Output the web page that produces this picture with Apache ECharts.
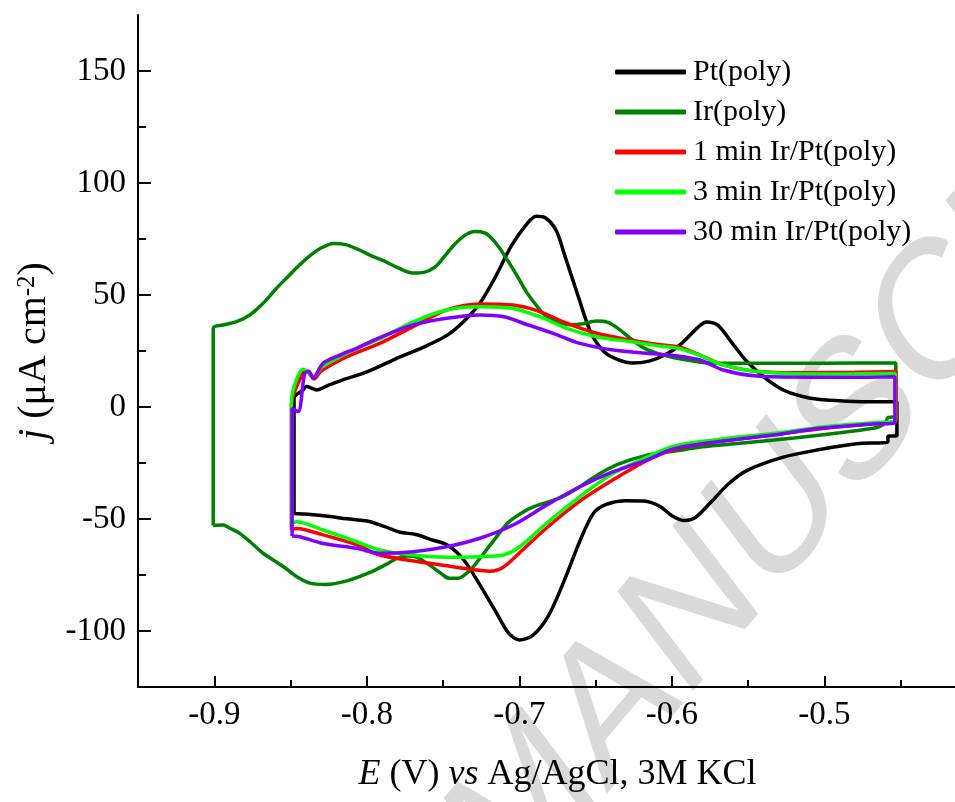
<!DOCTYPE html>
<html>
<head>
<meta charset="utf-8">
<script src="https://cdn.jsdelivr.net/npm/echarts@6/dist/echarts.min.js"></script>
<style>
html,body{margin:0;padding:0;background:#fff;}
#chart{width:955px;height:802px;}
</style>
</head>
<body>
<div id="chart"></div>
<script>
// ---------- data (E in V vs Ag/AgCl, j in µA cm^-2) ----------
const seriesNames = ['Pt(poly)', 'Ir(poly)', '1 min Ir/Pt(poly)', '3 min Ir/Pt(poly)', '30 min Ir/Pt(poly)'];

const ptE = [-0.8477, -0.8477, -0.8420, -0.8395, -0.8355, -0.8330, -0.8250, -0.8165, -0.7991, -0.7817, -0.7609, -0.7470, -0.7365, -0.7260, -0.7157, -0.7052, -0.6948, -0.6890, -0.6830, -0.6760, -0.6704, -0.6617, -0.6530, -0.6443, -0.6350, -0.6256, -0.6150, -0.6043, -0.5939, -0.5835, -0.5774, -0.5700, -0.5610, -0.5510, -0.5390, -0.5270, -0.5150, -0.5030, -0.4850, -0.4687, -0.4525, -0.4525, -0.4584, -0.4584, -0.4789, -0.5030, -0.5270, -0.5510, -0.5630, -0.5751, -0.5850, -0.5919, -0.6000, -0.6078, -0.6183, -0.6304, -0.6426, -0.6513, -0.6600, -0.6704, -0.6809, -0.6913, -0.7000, -0.7070, -0.7157, -0.7261, -0.7365, -0.7470, -0.7574, -0.7678, -0.7783, -0.7887, -0.7991, -0.8130, -0.8270, -0.8409, -0.8477];
const ptJ = [-47.5, 3.9, 7.5, 9.1, 8.2, 7.6, 9.8, 11.9, 15.9, 21.3, 27.3, 32.2, 38.2, 46.2, 58.1, 72.0, 82.0, 85.2, 84.5, 79.0, 68.0, 50.0, 33.0, 24.5, 21.0, 19.6, 20.5, 23.3, 28.2, 35.2, 37.9, 36.5, 29.0, 20.4, 13.0, 7.6, 4.8, 3.3, 2.6, 2.3, 2.3, -13.0, -13.0, -15.5, -16.4, -19.0, -22.4, -28.4, -34.4, -43.0, -49.5, -50.7, -48.5, -44.4, -42.0, -41.8, -43.4, -47.3, -59.3, -77.2, -93.1, -102.0, -104.0, -101.0, -91.1, -79.2, -68.2, -61.7, -59.3, -56.9, -55.9, -53.3, -51.0, -49.9, -48.7, -47.8, -47.5];

const irE = [-0.9007, -0.9007, -0.8942, -0.8854, -0.8767, -0.8680, -0.8592, -0.8513, -0.8440, -0.8374, -0.8300, -0.8217, -0.8140, -0.8061, -0.7970, -0.7887, -0.7800, -0.7700, -0.7620, -0.7554, -0.7500, -0.7434, -0.7360, -0.7290, -0.7230, -0.7193, -0.7130, -0.7073, -0.7010, -0.6953, -0.6890, -0.6833, -0.6750, -0.6664, -0.6580, -0.6496, -0.6420, -0.6351, -0.6270, -0.6184, -0.6090, -0.5991, -0.5870, -0.5751, -0.5600, -0.5200, -0.4800, -0.4532, -0.4532, -0.4582, -0.4600, -0.4640, -0.4680, -0.4899, -0.5200, -0.5554, -0.5800, -0.5991, -0.6180, -0.6351, -0.6480, -0.6592, -0.6700, -0.6784, -0.6905, -0.6990, -0.7073, -0.7193, -0.7313, -0.7398, -0.7460, -0.7506, -0.7590, -0.7674, -0.7740, -0.7800, -0.7880, -0.7991, -0.8130, -0.8270, -0.8380, -0.8461, -0.8548, -0.8680, -0.8760, -0.8833, -0.8900, -0.8942, -0.9007];
const irJ = [-52.9, 35.1, 36.6, 38.1, 41.1, 46.3, 53.0, 58.5, 63.5, 67.5, 71.0, 73.0, 72.5, 70.5, 67.5, 65.2, 62.3, 59.8, 60.2, 62.4, 66.5, 71.9, 76.5, 78.3, 77.8, 76.1, 71.0, 65.0, 58.0, 51.3, 45.5, 41.0, 38.0, 36.7, 37.2, 38.4, 37.8, 35.0, 30.5, 26.4, 23.8, 22.1, 20.6, 19.6, 19.5, 19.5, 19.6, 19.6, -4.3, -4.6, -7.0, -8.8, -9.5, -11.5, -13.8, -16.2, -17.8, -19.8, -21.8, -25.5, -30.0, -35.0, -39.5, -41.8, -44.5, -47.5, -51.6, -61.8, -72.1, -76.4, -76.5, -74.7, -70.5, -67.0, -66.5, -67.5, -70.5, -74.2, -77.6, -79.2, -78.5, -75.7, -71.2, -65.3, -60.5, -56.4, -54.0, -52.7, -52.9];

const min1E = [-0.8494, -0.8494, -0.8420, -0.8395, -0.8345, -0.8300, -0.8165, -0.8067, -0.7915, -0.7696, -0.7477, -0.7259, -0.7041, -0.6866, -0.6690, -0.6494, -0.6275, -0.6100, -0.5947, -0.5816, -0.5664, -0.5445, -0.5117, -0.4800, -0.4530, -0.4530, -0.4680, -0.5000, -0.5336, -0.5700, -0.5991, -0.6166, -0.6385, -0.6603, -0.6822, -0.6997, -0.7106, -0.7193, -0.7368, -0.7587, -0.7915, -0.8067, -0.8287, -0.8461, -0.8494];
const min1J = [-54.9, 1.0, 15.0, 15.8, 12.5, 16.0, 21.3, 24.3, 28.4, 35.9, 43.3, 46.0, 45.5, 42.6, 37.4, 32.9, 29.9, 28.0, 26.7, 23.2, 18.8, 15.9, 15.3, 15.5, 15.8, -6.0, -7.4, -9.5, -12.4, -15.5, -19.0, -24.0, -32.5, -42.0, -54.0, -65.0, -71.5, -73.3, -72.0, -69.8, -66.1, -61.5, -57.1, -54.2, -54.9];

const min3E = [-0.8494, -0.8494, -0.8418, -0.8395, -0.8345, -0.8300, -0.8165, -0.8067, -0.7915, -0.7696, -0.7477, -0.7259, -0.7041, -0.6866, -0.6690, -0.6494, -0.6275, -0.6100, -0.5947, -0.5816, -0.5664, -0.5445, -0.5117, -0.4800, -0.4535, -0.4535, -0.4680, -0.5000, -0.5336, -0.5700, -0.5991, -0.6166, -0.6385, -0.6603, -0.6822, -0.6997, -0.7106, -0.7259, -0.7477, -0.7696, -0.7915, -0.8067, -0.8287, -0.8461, -0.8494];
const min3J = [-52.0, 2.4, 16.8, 16.2, 13.5, 17.5, 22.8, 26.0, 30.5, 38.0, 43.3, 44.8, 44.0, 40.3, 35.1, 31.4, 29.2, 27.4, 26.0, 23.0, 18.7, 15.8, 14.7, 14.8, 15.0, -6.1, -7.0, -8.8, -11.8, -14.5, -17.5, -22.5, -29.6, -40.0, -51.9, -62.4, -66.1, -66.8, -67.1, -66.1, -63.8, -60.1, -54.9, -51.2, -52.0];

const min30E = [-0.8490, -0.8490, -0.8450, -0.8407, -0.8380, -0.8352, -0.8287, -0.8165, -0.8067, -0.7915, -0.7696, -0.7477, -0.7259, -0.7100, -0.6975, -0.6778, -0.6603, -0.6385, -0.6166, -0.5991, -0.5816, -0.5664, -0.5445, -0.5117, -0.4800, -0.4538, -0.4538, -0.4680, -0.5030, -0.5336, -0.5700, -0.5991, -0.6166, -0.6385, -0.6603, -0.6822, -0.7041, -0.7259, -0.7477, -0.7696, -0.7915, -0.8067, -0.8287, -0.8439, -0.8490];
const min30J = [-57.6, -0.6, -2.1, 15.0, 16.0, 12.8, 19.5, 23.5, 26.2, 31.0, 36.6, 39.6, 41.1, 40.3, 37.4, 32.9, 28.4, 25.4, 24.0, 23.0, 21.0, 16.5, 13.8, 13.3, 13.3, 13.5, -7.0, -7.6, -9.5, -12.5, -15.5, -18.7, -23.7, -28.9, -35.6, -43.8, -52.7, -58.6, -62.4, -64.6, -65.3, -63.1, -60.9, -57.9, -57.6];

// axis ticks / labels
const xMajorTicks = [-0.9, -0.8, -0.7, -0.6, -0.5, -0.4];
const xMinorTicks = [-0.85, -0.75, -0.65, -0.55, -0.45];
const xTickLabels = [-0.9, -0.8, -0.7, -0.6, -0.5];
const yMajorTicks = [-100, -50, 0, 50, 100, 150];
const yMinorTicks = [-75, -25, 25, 75, 125];
const yTickLabels = [-100, -50, 0, 50, 100, 150];

// ---------- chart ----------
const SERIF = '"Liberation Serif", "Times New Roman", "DejaVu Serif", serif';
const colors = ['#000000', '#008000', '#ff0000', '#00ff00', '#8000ff'];
const zip = (a, b) => a.map((v, i) => [v, b[i]]);
const curves = [[ptE, ptJ], [irE, irJ], [min1E, min1J], [min3E, min3J], [min30E, min30J]];

const chart = echarts.init(document.getElementById('chart'), null, {renderer: 'canvas'});
const axisLineStyle = {color: '#000', width: 2};

const option = {
  animation: false,
  backgroundColor: '#ffffff',
  textStyle: {fontFamily: SERIF},
  grid: {left: 138, top: 15, right: -22, bottom: 115, containLabel: false, outerBoundsMode: 'none'},
  legend: {
    orient: 'vertical', left: 615, top: 57, padding: 0,
    itemWidth: 71, itemHeight: 5, itemGap: 10, icon: 'roundRect',
    textStyle: {fontFamily: SERIF, fontSize: 30, color: '#000', padding: [0, 0, 0, 2]},
    data: seriesNames
  },
  xAxis: [
    {
      type: 'value', min: -0.95, max: -0.4, position: 'bottom',
      axisLine: {show: true, onZero: false, lineStyle: axisLineStyle},
      axisTick: {show: true, inside: true, length: 11, lineStyle: axisLineStyle, customValues: xMajorTicks},
      axisLabel: {show: true, customValues: xTickLabels, formatter: v => v.toFixed(1), fontFamily: SERIF, fontSize: 33, color: '#000', margin: 12},
      splitLine: {show: false},
      name: '{i|E} (V) {i|vs} Ag/AgCl, 3M KCl',
      nameLocation: 'middle', nameGap: 70,
      nameTextStyle: {fontFamily: SERIF, fontSize: 36, color: '#000',
        rich: {i: {fontFamily: SERIF, fontSize: 36, fontStyle: 'italic', color: '#000'}}}
    },
    {
      type: 'value', min: -0.95, max: -0.4, position: 'bottom',
      axisLine: {show: false, onZero: false},
      axisTick: {show: true, inside: true, length: 7, lineStyle: axisLineStyle, customValues: xMinorTicks},
      axisLabel: {show: false}, splitLine: {show: false}
    }
  ],
  yAxis: [
    {
      type: 'value', min: -125, max: 175, position: 'left',
      axisLine: {show: true, onZero: false, lineStyle: axisLineStyle},
      axisTick: {show: true, inside: true, length: 13, lineStyle: axisLineStyle, customValues: yMajorTicks},
      axisLabel: {show: true, customValues: yTickLabels, fontFamily: SERIF, fontSize: 33, color: '#000', margin: 12},
      splitLine: {show: false},
      name: '{i|j} (μA cm{s|-2})',
      nameLocation: 'middle', nameGap: 58,
      nameTextStyle: {fontFamily: SERIF, fontSize: 40, color: '#000',
        rich: {
          i: {fontFamily: SERIF, fontSize: 40, fontStyle: 'italic', color: '#000'},
          s: {fontFamily: SERIF, fontSize: 25, color: '#000', verticalAlign: 'top'}
        }}
    },
    {
      type: 'value', min: -125, max: 175, position: 'left',
      axisLine: {show: false, onZero: false},
      axisTick: {show: true, inside: true, length: 8, lineStyle: axisLineStyle, customValues: yMinorTicks},
      axisLabel: {show: false}, splitLine: {show: false}
    }
  ],
  graphic: {
    elements: [{
      type: 'group', x: 531, y: 808, scaleY: 1.25, z: -10, silent: true,
      children: [{
        type: 'text', x: 0, y: 0, rotation: 43.6 * Math.PI / 180, z: -10, silent: true,
        style: {
          text: 'ACCEPTED MANUSCRIPT', fontSize: 160, fontFamily: '"Liberation Sans", Arial, sans-serif',
          fill: '#d9d9d9', align: 'center', verticalAlign: 'middle', textAlign: 'center', textVerticalAlign: 'middle'
        }
      }]
    }]
  },
  series: curves.map((c, i) => ({
    name: seriesNames[i], type: 'line', xAxisIndex: 0, yAxisIndex: 0,
    data: zip(c[0], c[1]), showSymbol: false, symbol: 'none', smooth: 0.3,
    lineStyle: {color: colors[i], width: 3.5}, itemStyle: {color: colors[i]},
    emphasis: {disabled: true}, z: 2 + i
  }))
};
chart.setOption(option);
</script>
</body>
</html>
